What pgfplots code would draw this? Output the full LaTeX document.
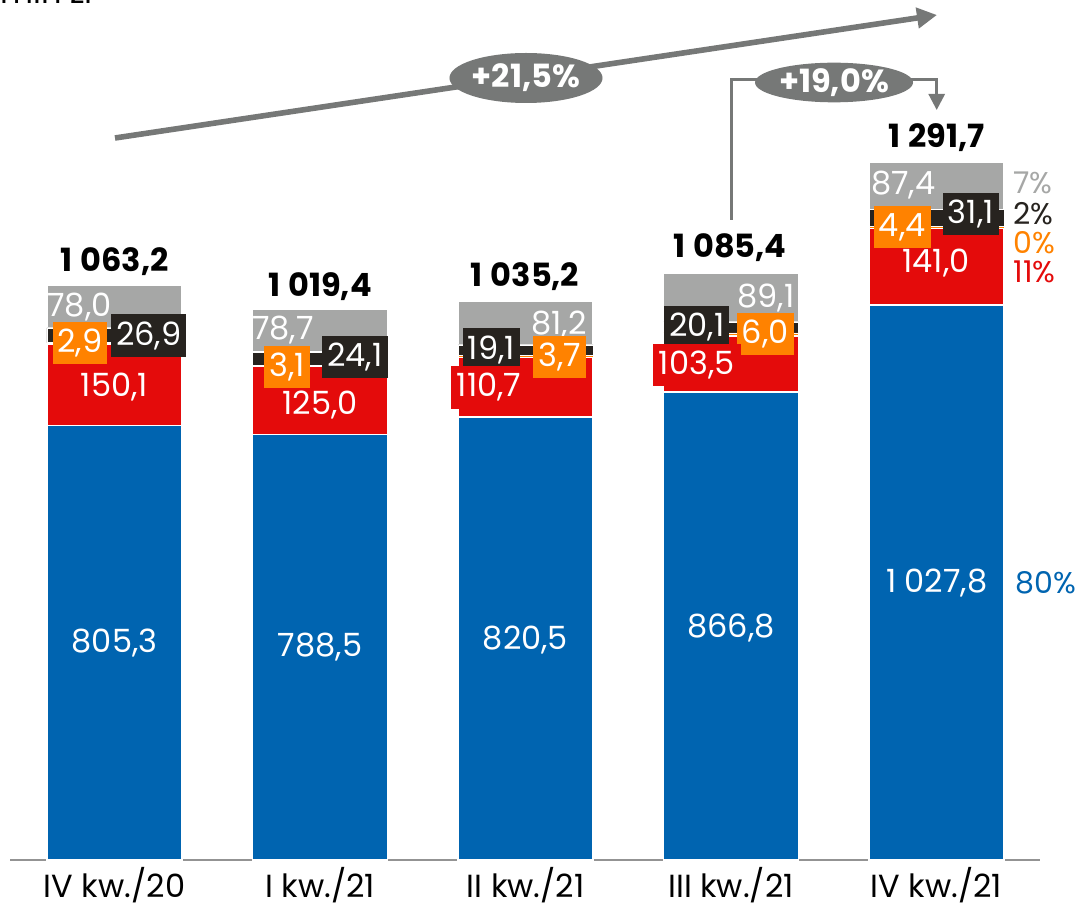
\documentclass[border=0pt]{standalone}
\usepackage{pgfplots}
\pgfplotsset{compat=1.18}
\usepackage{pgfplotstable}
\usepackage{fontspec}
\setmainfont{Poppins}
\usetikzlibrary{shapes.geometric,arrows.meta}

\definecolor{cBlue}{HTML}{0064B0}
\definecolor{cRed}{HTML}{E40B0B}
\definecolor{cOrange}{HTML}{FF8200}
\definecolor{cBlack}{HTML}{27231F}
\definecolor{cGray}{HTML}{A6A7A6}
\definecolor{cArrow}{HTML}{767877}

% mln zl, per quarter
\pgfplotstableread{
x blue red orange black gray
0 805.3 150.1 2.9 26.9 78.0
1 788.5 125.0 3.1 24.1 78.7
2 820.5 110.7 3.7 19.1 81.2
3 866.8 103.5 6.0 20.1 89.1
4 1027.8 141.0 4.4 31.1 87.4
}\data

\newcommand\ths{\hspace{0.25em}}
\tikzset{
  lbl/.style={font=\fontsize{16}{18}\selectfont, text=white, inner sep=1.5pt},
  box/.style={lbl, fill=#1, inner xsep=2.5pt, inner ysep=3.5pt},
  tot/.style={font=\fontsize{16}{18}\selectfont\bfseries, text=black},
  pct/.style={font=\fontsize{15}{17}\selectfont, anchor=west, inner sep=0pt},
  growth/.style={ellipse, fill=cArrow, inner sep=0pt, text=white,
    font=\fontsize{16}{18}\selectfont\bfseries},
}

\begin{document}
\begin{tikzpicture}
\begin{axis}[
  width=515pt, height=430pt, scale only axis,
  xmin=-0.5085, xmax=4.5036, ymin=0, ymax=1592.6,
  ybar stacked, bar width=0.657,
  axis x line*=bottom, axis y line=none,
  x axis line style={draw=gray!85, line width=1pt},
  xtick=data, major tick length=0pt,
  xticklabels={IV kw./20, I kw./21, II kw./21, III kw./21, IV kw./21},
  xticklabel style={font=\fontsize{16}{18}\selectfont, yshift=-0.3pt},
  clip=false,
]
\addplot[fill=cBlue, draw=white, line width=0.6pt] table[x=x, y=blue] {\data};
\addplot[fill=cRed, draw=white, line width=0.6pt] table[x=x, y=red] {\data};
\addplot[fill=cOrange, draw=white, line width=0.3pt] table[x=x, y=orange] {\data};
\addplot[fill=cBlack, draw=white, line width=0.3pt] table[x=x, y=black] {\data};
\addplot[fill=cGray, draw=white, line width=0.6pt] table[x=x, y=gray] {\data};

\coordinate (TL) at (axis cs:-0.5572,1592.6);
\coordinate (BR) at (axis cs:4.708,-87);
\end{axis}

% annotations, placed in the picture's own pixel grid (origin top-left)
\begin{scope}[shift={(TL)}, x=0.5pt, y=-0.5pt]
\node[font=\fontsize{16}{18}\selectfont, anchor=base west, inner sep=0pt] at (0,4) {mln zł};

% bar 1
\node[tot] at (114.5,262) {1\ths063,2};
\node[lbl] at (79.5,306.7) {78,0};
\node[box=cOrange] at (80,343) {2,9};
\node[box=cBlack] at (148.7,335.5) {26,9};
\node[lbl] at (114.5,386.7) {150,1};
\node[lbl] at (114.5,643) {805,3};
% bar 2
\node[tot] at (320,287) {1\ths019,4};
\node[lbl] at (283,330) {78,7};
\node[box=cOrange] at (287,367) {3,1};
\node[box=cBlack] at (355,357) {24,1};
\node[lbl] at (320,405) {125,0};
\node[lbl] at (320,647) {788,5};
% bar 3
\node[tot] at (525,277) {1\ths035,2};
\node[lbl] at (559,325) {81,2};
\node[box=cBlack] at (491.3,349.5) {19,1};
\node[box=cOrange] at (559.7,356.7) {3,7};
\node[box=cRed, inner xsep=3pt] at (489,387.5) {110,7};
\node[lbl] at (525.5,640) {820,5};
% bar 4
\node[tot] at (730,248) {1\ths085,4};
\node[lbl] at (765.8,298) {89,1};
\node[box=cBlack] at (696.7,326.7) {20,1};
\node[box=cOrange] at (765.3,334.2) {6,0};
\node[box=cRed, inner xsep=3pt] at (696.7,365) {103,5};
\node[lbl] at (731,628) {866,8};
% bar 5
\node[tot] at (936.7,138) {1\ths291,7};
\node[lbl] at (903.3,185) {87,4};
\node[box=cOrange] at (902.2,227) {4,4};
\node[box=cBlack] at (970.8,214.2) {31,1};
\node[lbl] at (936,263.3) {141,0};
\node[lbl] at (937,583) {1\ths027,8};
% shares of the last bar
\node[pct, text=cGray] at (1013,183) {7\%};
\node[pct, text=cBlack] at (1013,214) {2\%};
\node[pct, text=cOrange] at (1013,242.5) {0\%};
\node[pct, text=cRed] at (1013,272) {11\%};
\node[pct, text=cBlue] at (1015,583) {80\%};

% growth arrows
\draw[cArrow, line width=2.8pt, -{Triangle[length=10pt,width=10pt]}]
  (115,138) -- (937,15);
\node[growth, minimum width=74pt, minimum height=25pt] at (526,78) {+21,5\%};
\draw[cArrow, line width=1.4pt, -{Triangle[length=8pt,width=8pt]}]
  (731.7,220) -- (731.7,79.3) -- (936.7,79.3) -- (936.7,110);
\node[growth, minimum width=79pt, minimum height=18pt] at (834,82.5) {+19,0\%};
\end{scope}

\pgfresetboundingbox
\useasboundingbox (TL) rectangle (BR);
\end{tikzpicture}
\end{document}
